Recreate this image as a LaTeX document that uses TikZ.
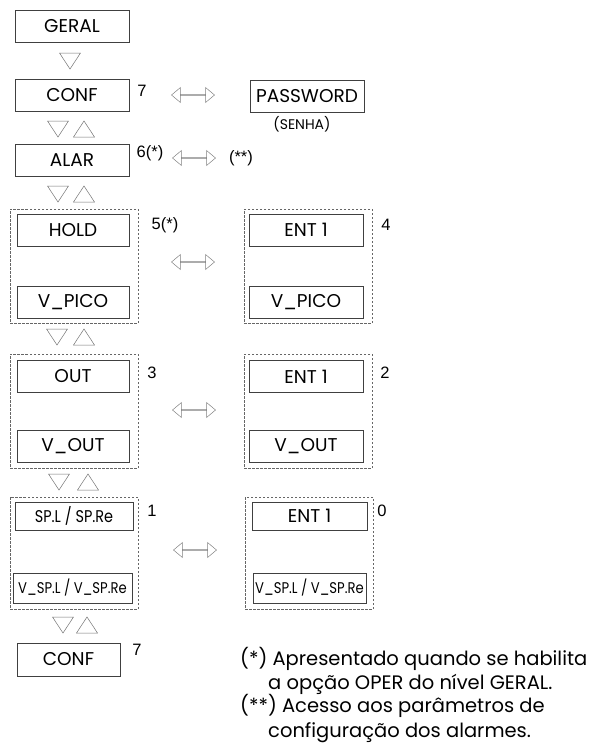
\documentclass[tikz,border=0pt]{standalone}
\usepackage{fontspec}
\usetikzlibrary{shapes.arrows}
\newfontfamily\gothic{Poppins}
\newfontfamily\gothicn[FakeStretch=0.85]{Poppins}
\newfontfamily\arial{Liberation Sans}
\tikzset{
  box/.style={draw=black!75, line width=0.6pt, minimum width=114pt, minimum height=32pt, inner sep=0pt, font=\gothic\fontsize{18.5}{20}\selectfont},
  grp/.style={draw=black!60, dashed, dash pattern=on 2.5pt off 1.5pt, line width=0.6pt, inner sep=0pt},
  num/.style={font=\arial\fontsize{16.5}{18}\selectfont, inner sep=0pt},
  dbl/.style={double arrow, draw=black!50, line width=0.5pt, minimum width=15pt, minimum height=43pt, double arrow head extend=4pt, inner sep=0pt, double arrow tip angle=80},
  tri/.style={draw=black!55, line width=0.5pt, line join=miter},
  note/.style={font=\gothic\fontsize{19.5}{22}\selectfont, anchor=base west, inner sep=0pt}
}
\newcommand\tridown[2]{\draw[tri] ({#1-10.5},{#2-8}) -- ({#1+10.5},{#2-8}) -- ({#1},{#2+8}) -- cycle;}
\newcommand\triup[2]{\draw[tri] ({#1-10.5},{#2+8}) -- ({#1+10.5},{#2+8}) -- ({#1},{#2-8}) -- cycle;}
\begin{document}
\begin{tikzpicture}[x=1pt,y=-1pt]
\useasboundingbox (0,0) rectangle (591,745);
% top chain
\node[box] (geral) at (72,26) {GERAL};
\tridown{70}{61}
\node[box] (conf) at (72,95.5) {CONF};
\node[num] (n7) at (142,91) {7};
\node[dbl] (a1) at (193,95) {};
\node[box] (pass) at (307,96) {PASSWORD};
\node[font=\gothic\fontsize{14}{16}\selectfont, inner sep=0pt] (senha) at (302,124) {(SENHA)};
\tridown{58}{129}\triup{84}{129}
\node[box] (alar) at (72,160) {ALAR};
\node[num] (n6) at (150,153) {6(*)};
\node[dbl] (a2) at (194,158) {};
\node[num] (ss) at (241,158) {(**)};
\tridown{58}{194}\triup{84}{194}
% group 5 / 4
\node[grp, minimum width=128pt, minimum height=114pt] (g5) at (74,266) {};
\node[box, minimum width=112pt] (hold) at (73,230) {HOLD};
\node[box, minimum width=112pt] (vpico) at (73,302) {V\_PICO};
\node[num] (n5) at (165,225) {5(*)};
\node[dbl] (a3) at (193,262) {};
\node[grp, minimum width=128pt, minimum height=114pt] (g4) at (308,266) {};
\node[box] (ent4) at (306,230) {ENT 1};
\node[box] (vpico2) at (306,302) {V\_PICO};
\node[num] (n4) at (386,225) {4};
\tridown{57}{337}\triup{84}{337}
% group 3 / 2
\node[grp, minimum width=128pt, minimum height=114pt] (g3) at (74,411) {};
\node[box, minimum width=112pt] (out) at (73,376.5) {OUT};
\node[box, minimum width=112pt] (vout) at (73,446.5) {V\_OUT};
\node[num] (n3) at (152,373) {3};
\node[dbl] (a4) at (194,410) {};
\node[grp, minimum width=128pt, minimum height=114pt] (g2) at (308,411) {};
\node[box] (ent2) at (306,376.5) {ENT 1};
\node[box] (vout2) at (306,446.5) {V\_OUT};
\node[num] (n2) at (385,373) {2};
\tridown{59}{482}\triup{88}{482}
% group 1 / 0
\node[grp, minimum width=128pt, minimum height=112pt] (g1) at (74,553) {};
\node[box, minimum width=118pt, minimum height=28pt, font=\gothicn\fontsize{17}{18}\selectfont] (spl) at (74,516) {SP.L / SP.Re};
\node[box, minimum width=119pt, minimum height=30pt, font=\gothicn\fontsize{15.5}{17}\selectfont] (vspl) at (72.5,588) {V\_SP.L / V\_SP.Re};
\node[num] (n1) at (152,511) {1};
\node[dbl] (a5) at (195,550) {};
\node[grp, minimum width=128pt, minimum height=112pt] (g0) at (309,553) {};
\node[box, minimum width=115pt, minimum height=28pt] (ent0) at (309.5,516) {ENT 1};
\node[box, minimum width=113pt, minimum height=30pt, font=\gothicn\fontsize{15.5}{17}\selectfont] (vspl2) at (309.5,588) {V\_SP.L / V\_SP.Re};
\node[num] (n0) at (382,511) {0};
\tridown{63}{625}\triup{87}{625}
\node[box, minimum width=103pt, minimum height=33pt] (conf2) at (68.5,659.5) {CONF};
\node[num] (n7b) at (137,650) {7};
% notes
\node[note] (t1) at (240,665) {(*) Apresentado quando se habilita};
\node[note] (t2) at (268,689) {a opção OPER do nível GERAL.};
\node[note] (t3) at (240,712) {(**) Acesso aos parâmetros de};
\node[note] (t4) at (268,737) {configuração dos alarmes.};
\end{tikzpicture}
\end{document}
